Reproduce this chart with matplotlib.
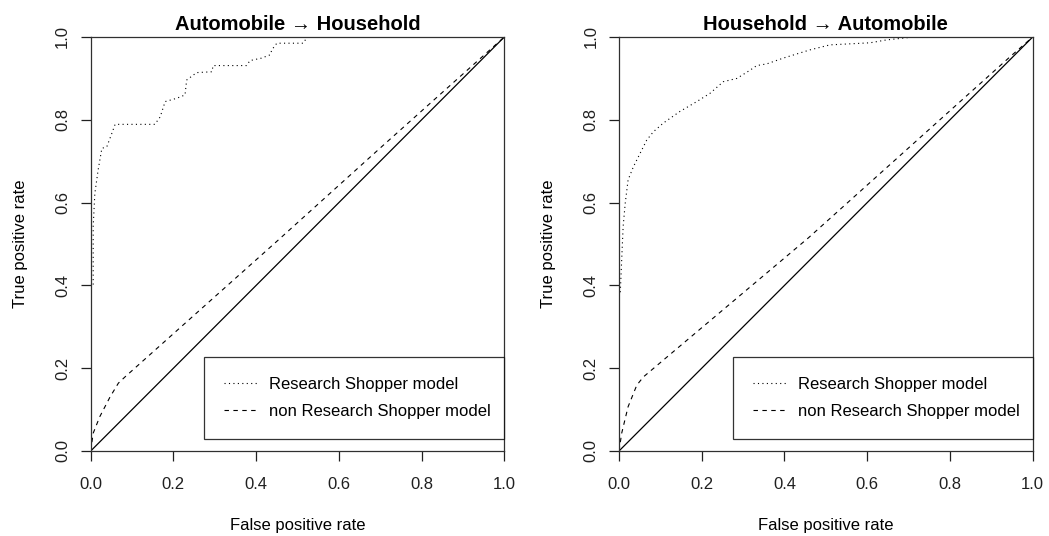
#!/usr/bin/env python3
"""
ROC curves for the two cross-category transfer directions,
Research Shopper model vs non Research Shopper model, with the chance diagonal.
"""
import matplotlib
matplotlib.use("Agg")
import matplotlib.pyplot as plt
from matplotlib.lines import Line2D

plt.rcParams["font.family"] = ["Liberation Sans", "DejaVu Sans"]

# ---- data ----
titles = ["Automobile \u2192 Household", "Household \u2192 Automobile"]

# Automobile -> Household
rs_fpr_ah = [0.0, 0.0, 0.006, 0.006, 0.010, 0.018, 0.027, 0.039, 0.051, 0.059, 0.155, 0.168,
             0.180, 0.208, 0.228, 0.232, 0.256, 0.293, 0.296, 0.377, 0.385, 0.413, 0.434,
             0.438, 0.450, 0.514, 0.522]
rs_tpr_ah = [0.0, 0.401, 0.401, 0.542, 0.622, 0.679, 0.731, 0.735, 0.767, 0.789, 0.789, 0.807,
             0.844, 0.852, 0.860, 0.896, 0.914, 0.916, 0.931, 0.931, 0.943, 0.949, 0.957,
             0.969, 0.985, 0.985, 0.998]
nrs_fpr_ah = [0.0, 0.006, 0.022, 0.047, 0.067, 0.083, 0.454, 0.699, 1.0]
nrs_tpr_ah = [0.0, 0.043, 0.083, 0.131, 0.164, 0.179, 0.510, 0.731, 1.0]

# Household -> Automobile
rs_fpr_ha = [0.0, 0.0, 0.003, 0.010, 0.015, 0.022, 0.035, 0.051, 0.067, 0.083, 0.107, 0.147,
             0.188, 0.220, 0.252, 0.285, 0.317, 0.333, 0.357, 0.397, 0.462, 0.510, 0.607,
             0.647, 0.703, 0.877]
rs_tpr_ha = [0.0, 0.381, 0.381, 0.542, 0.598, 0.655, 0.687, 0.719, 0.751, 0.771, 0.792, 0.820,
             0.844, 0.864, 0.892, 0.900, 0.920, 0.931, 0.935, 0.949, 0.969, 0.981, 0.986,
             0.993, 0.999, 1.0]
nrs_fpr_ha = [0.0, 0.0065, 0.022, 0.043, 0.059, 0.458, 0.945, 1.0]
nrs_tpr_ha = [0.0, 0.043, 0.107, 0.159, 0.179, 0.515, 0.952, 1.0]

legend_labels = ["Research Shopper model", "non Research Shopper model"]
tick_vals = [0.0, 0.2, 0.4, 0.6, 0.8, 1.0]
tick_labels = ["0.0", "0.2", "0.4", "0.6", "0.8", "1.0"]

W, H = 1049, 536
DOT = (0, (1, 3))
DASH = (0, (4, 4))


def px_rect(x0, y0, x1, y1):
    # pixel box (top-left origin) -> figure fraction rect
    return [x0 / W, 1 - y1 / H, (x1 - x0) / W, (y1 - y0) / H]


def draw_panel(ax, title, rs_x, rs_y, nrs_x, nrs_y, leg_left_px, ax_px):
    ax.plot(rs_x, rs_y, color="black", lw=0.8, linestyle=DOT)
    ax.plot(nrs_x, nrs_y, color="black", lw=0.8, linestyle=DASH)
    ax.plot([0, 1], [0, 1], color="black", lw=0.9)
    ax.set_xlim(0, 1)
    ax.set_ylim(0, 1)
    ax.set_xticks(tick_vals)
    ax.set_xticklabels(tick_labels)
    ax.set_yticks(tick_vals)
    ax.set_yticklabels(tick_labels, rotation=90, va="center")
    ax.tick_params(direction="out", length=7.4, width=0.9, labelsize=12, colors="#202020")
    ax.tick_params(axis="x", pad=11.5)
    ax.tick_params(axis="y", pad=7.5)
    for s in ax.spines.values():
        s.set_linewidth(0.9)
        s.set_color("#303030")
    ax.set_title(title, fontsize=14.5, fontweight="bold", pad=5)
    ax.text(0.5, -0.18, "False positive rate", transform=ax.transAxes,
            ha="center", va="center", fontsize=12)
    ax.text(-0.17, 0.5, "True positive rate", transform=ax.transAxes,
            ha="center", va="center", rotation=90, fontsize=12)

    # legend box placed like the reference (right aligned with the plot box)
    x0, y0, x1, y1 = ax_px
    lx0 = (leg_left_px - x0) / (x1 - x0)
    ly_top = (y1 - 357) / (y1 - y0)
    ly_bot = (y1 - 440) / (y1 - y0)
    handles = [Line2D([], [], color="black", lw=0.8, linestyle=DOT),
               Line2D([], [], color="black", lw=0.8, linestyle=DASH)]
    leg = ax.legend(handles, legend_labels, loc="upper left",
                    bbox_to_anchor=(lx0, ly_bot, 1 - lx0, ly_top - ly_bot),
                    mode="expand", fontsize=12, frameon=True, fancybox=False,
                    edgecolor="black", handlelength=2.0, handletextpad=0.7,
                    borderpad=1.2, labelspacing=0.72, borderaxespad=0)
    leg.get_frame().set_linewidth(0.9)


fig = plt.figure(figsize=(W / 100, H / 100), dpi=100)
left_px = (90.7, 37, 504.3, 451)
right_px = (619, 37, 1032.7, 451)
ax1 = fig.add_axes(px_rect(*left_px))
ax2 = fig.add_axes(px_rect(*right_px))

draw_panel(ax1, titles[0], rs_fpr_ah, rs_tpr_ah, nrs_fpr_ah, nrs_tpr_ah, 204, left_px)
draw_panel(ax2, titles[1], rs_fpr_ha, rs_tpr_ha, nrs_fpr_ha, nrs_tpr_ha, 733, right_px)

fig.savefig("out.png", dpi=100)
plt.close(fig)
